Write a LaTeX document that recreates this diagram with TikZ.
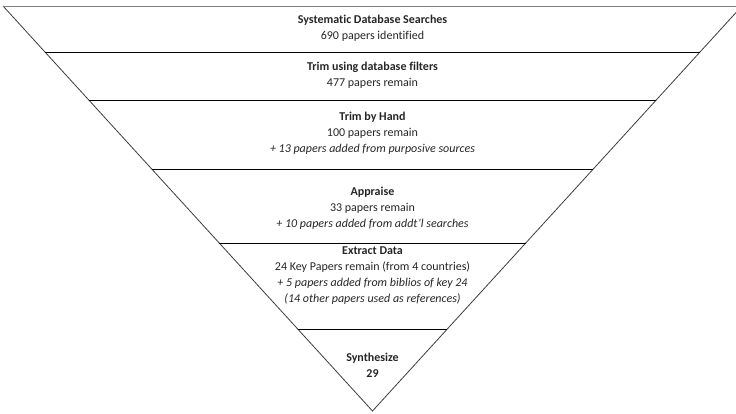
\documentclass[tikz,border=0pt]{standalone}
\usepackage{fontspec}
\setmainfont[Ligatures=NoCommon]{Carlito}
\usetikzlibrary{calc}
\definecolor{txt}{RGB}{38,38,38}
\definecolor{edge}{RGB}{60,60,60}
\definecolor{topline}{RGB}{128,128,128}
\begin{document}
\begin{tikzpicture}[x=1pt,y=1pt,
  stagetext/.style={align=center,font=\fontsize{12}{16}\selectfont,text=txt,inner sep=0pt},
  divider/.style={draw=black,line width=0.8pt},
  funnel/.style={draw=edge,line width=0.8pt}]
\useasboundingbox (0,0) rectangle (736,414);
\clip (0,0) rectangle (736,414);
\coordinate (TL) at (3,408);
\coordinate (TR) at (742,408);
\coordinate (A) at (372.5,3);
% funnel
\draw[funnel] (TL) -- (A) -- (TR);
\draw[draw=topline,line width=0.8pt] (TL) -- (TR);
% dividers
\foreach \t/\n in {0.1136/a,0.2321/b,0.4025/c,0.5852/d,0.7975/e}{
  \coordinate (L\n) at ($(TL)!\t!(A)$);
  \coordinate (R\n) at ($(TR)!\t!(A)$);
  \draw[divider] (L\n) -- (R\n);
}
% texts
\node[stagetext] (s1) at (372.5,385.5) {\textbf{Systematic Database Searches}\\690 papers identified};
\node[stagetext] (s2) at (372.5,339) {\textbf{Trim using database filters}\\477 papers remain};
\node[stagetext] (s3) at (372.5,281) {\textbf{Trim by Hand}\\100 papers remain\\\textit{+ 13 papers added from purposive sources}};
\node[stagetext] (s4) at (372.5,206) {\textbf{Appraise}\\33 papers remain\\\textit{+ 10 papers added from addt’l searches}};
\node[stagetext] (s5) at (372.5,138.5) {\textbf{Extract Data}\\24 Key Papers remain (from 4 countries)\\\textit{+ 5 papers added from biblios of key 24}\\\textit{(14 other papers used as references)}};
\node[stagetext] (s6) at (372.5,49) {\textbf{Synthesize}\\\textbf{29}};
\end{tikzpicture}
\end{document}
